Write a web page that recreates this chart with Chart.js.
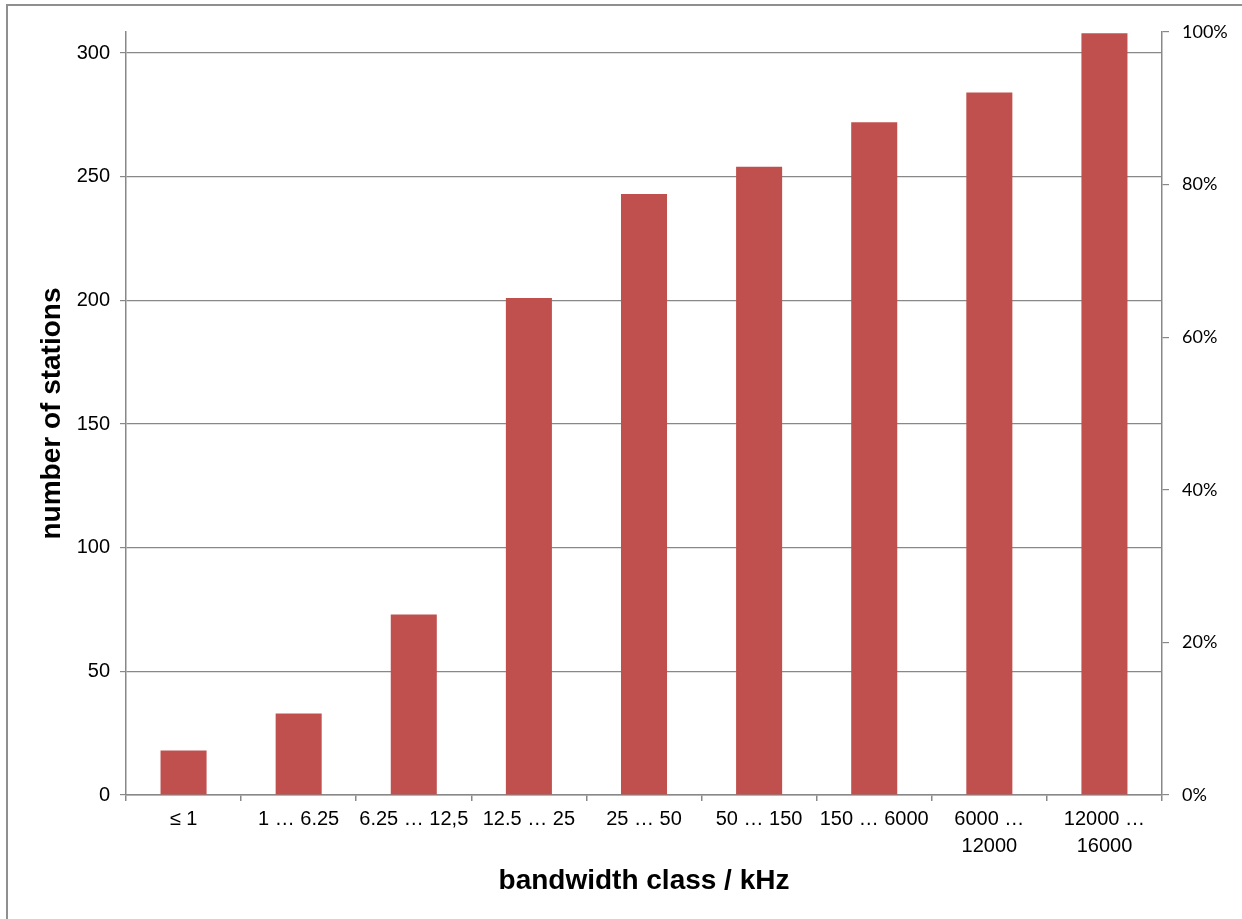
<!DOCTYPE html>
<html>
<head>
<meta charset="utf-8">
<script src="https://cdn.jsdelivr.net/npm/chart.js@4"></script>
<style>
    html, body { margin: 0; padding: 0; background: #fff; }
    #wrap { width: 1242px; height: 919px; }
</style>
</head>
<body>
<div id="wrap"><canvas id="bwChart" width="1242" height="919"></canvas></div>
<script>
// Data
const bandwidthClasses = ['≤ 1', '1 … 6.25', '6.25 … 12,5', '12.5 … 25', '25 … 50', '50 … 150', '150 … 6000', ['6000 …', '12000'], ['12000 …', '16000']];
const stationCounts = [18, 33, 73, 201, 243, 254, 272, 284, 308];
const countTicks = [0, 50, 100, 150, 200, 250, 300];
const percentTicks = [0, 20, 40, 60, 80, 100];

const gridGray = '#888888';

// frame line at the left and top edges of the picture
const framePlugin = {
    id: 'frame',
    beforeDraw(chart) {
        const c = chart.ctx;
        c.save();
        c.fillStyle = '#fff';
        c.fillRect(0, 0, chart.width, chart.height);
        c.strokeStyle = '#8f8f8f';
        c.lineWidth = 2;
        c.beginPath();
        c.moveTo(7, chart.height);
        c.lineTo(7, 5);
        c.lineTo(chart.width, 5);
        c.stroke();
        c.restore();
    }
};

const ctx = document.getElementById('bwChart').getContext('2d');
new Chart(ctx, {
    type: 'bar',
    data: {
        labels: bandwidthClasses,
        datasets: [{
            label: 'number of stations',
            data: stationCounts,
            backgroundColor: '#C0504D',
            barPercentage: 0.4,
            categoryPercentage: 1.0,
            yAxisID: 'y'
        }]
    },
    options: {
        responsive: false,
        animation: false,
        layout: { padding: { top: 32, left: 0, right: 0, bottom: 0 } },
        plugins: { legend: { display: false }, tooltip: { enabled: false } },
        scales: {
            x: {
                grid: { drawOnChartArea: false, offset: true, tickLength: 6, color: gridGray, lineWidth: 1.5 },
                border: { color: gridGray, width: 1.5 },
                ticks: {
                    color: '#000',
                    font: { family: 'Liberation Sans', size: 20, lineHeight: 1.35 },
                    maxRotation: 0, autoSkip: false, padding: 5
                },
                title: {
                    display: true, text: 'bandwidth class / kHz', color: '#000',
                    font: { family: 'Liberation Sans', size: 28, weight: 'bold' },
                    padding: { top: 21, bottom: 21 }
                },
                afterFit(scale) { scale.height = 124; }
            },
            y: {
                position: 'left',
                min: 0, max: 308.5,
                afterBuildTicks(scale) { scale.ticks = countTicks.map(v => ({ value: v })); },
                grid: { color: gridGray, lineWidth: 1.2, tickLength: 6 },
                border: { color: gridGray, width: 1.5 },
                ticks: { color: '#000', font: { family: 'Liberation Sans', size: 20 }, padding: 10 },
                title: {
                    display: true, text: 'number of stations', color: '#000',
                    font: { family: 'Liberation Sans', size: 28, weight: 'bold' },
                    padding: { top: 35, bottom: 35 }
                },
                afterFit(scale) { scale.width = 126; }
            },
            y2: {
                position: 'right',
                min: 0, max: 100,
                afterBuildTicks(scale) { scale.ticks = percentTicks.map(v => ({ value: v })); },
                grid: { drawOnChartArea: false, color: gridGray, lineWidth: 1.2, tickLength: 7 },
                border: { color: gridGray, width: 1.5 },
                ticks: {
                    color: '#000', font: { family: 'Lato', size: 18 }, padding: 13,
                    callback: v => v + '%'
                },
                afterFit(scale) { scale.width = 80; }
            }
        }
    },
    plugins: [framePlugin]
});
</script>
</body>
</html>
